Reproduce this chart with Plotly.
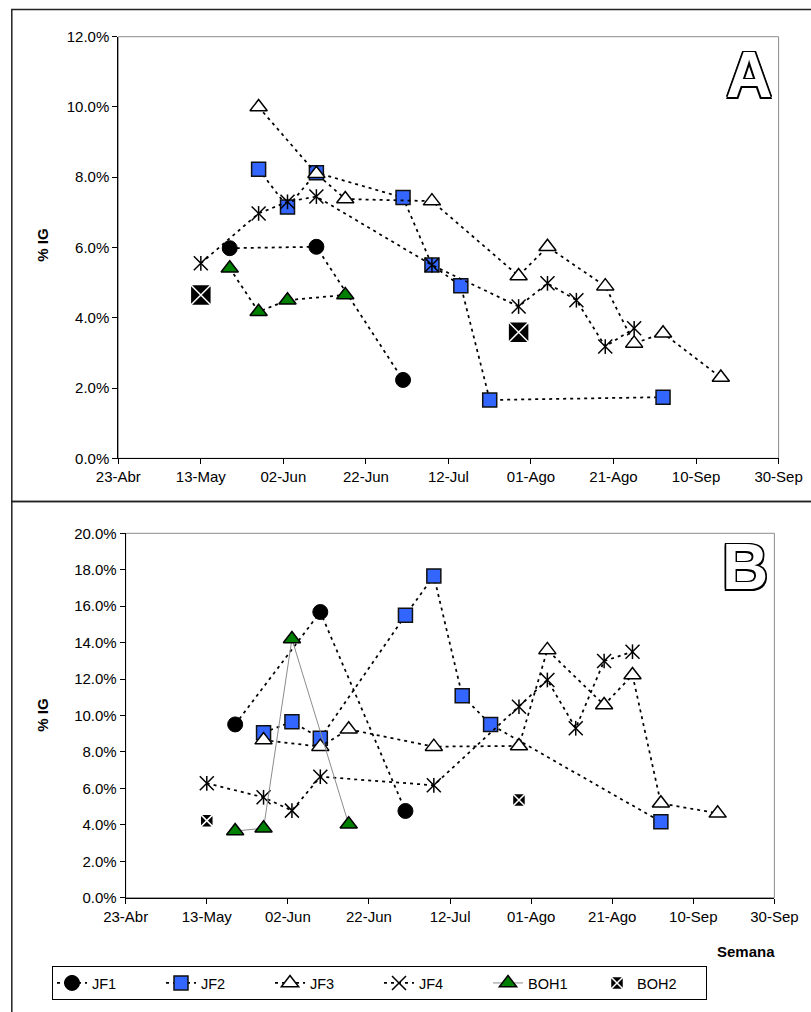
import plotly.graph_objects as go

W, H = 811, 1012

# ---------------- axis ticks ----------------
tick_dates = ["2007-04-23", "2007-05-13", "2007-06-02", "2007-06-22", "2007-07-12",
              "2007-08-01", "2007-08-21", "2007-09-10", "2007-09-30"]
tick_labels = ["23-Abr", "13-May", "02-Jun", "22-Jun", "12-Jul",
               "01-Ago", "21-Ago", "10-Sep", "30-Sep"]
y_ticks_A = [0, 2, 4, 6, 8, 10, 12]
y_labels_A = ["0.0%", "2.0%", "4.0%", "6.0%", "8.0%", "10.0%", "12.0%"]
y_ticks_B = [0, 2, 4, 6, 8, 10, 12, 14, 16, 18, 20]
y_labels_B = ["0.0%", "2.0%", "4.0%", "6.0%", "8.0%", "10.0%", "12.0%", "14.0%",
              "16.0%", "18.0%", "20.0%"]

# ---------------- panel A data (% IG) ----------------
jf1_A_x = ["2007-05-20", "2007-06-10", "2007-07-01"]
jf1_A_y = [5.98, 6.02, 2.23]
jf2_A_x = ["2007-05-27", "2007-06-03", "2007-06-10", "2007-07-01", "2007-07-08",
           "2007-07-15", "2007-07-22", "2007-09-02"]
jf2_A_y = [8.23, 7.15, 8.13, 7.42, 5.50, 4.91, 1.66, 1.74]
jf3_A_x = ["2007-05-27", "2007-06-10", "2007-06-17", "2007-07-08", "2007-07-29",
           "2007-08-05", "2007-08-19", "2007-08-26", "2007-09-02", "2007-09-16"]
jf3_A_y = [10.0, 8.10, 7.38, 7.32, 5.19, 6.02, 4.90, 3.27, 3.56, 2.30]
jf4_A_x = ["2007-05-13", "2007-05-27", "2007-06-03", "2007-06-10", "2007-07-08",
           "2007-07-29", "2007-08-05", "2007-08-12", "2007-08-19", "2007-08-26"]
jf4_A_y = [5.55, 6.97, 7.30, 7.45, 5.50, 4.32, 4.98, 4.50, 3.18, 3.70]
boh1_A_x = ["2007-05-20", "2007-05-27", "2007-06-03", "2007-06-17"]
boh1_A_y = [5.41, 4.17, 4.50, 4.65]
boh2_A_x = ["2007-05-13", "2007-07-29"]
boh2_A_y = [4.65, 3.59]

# ---------------- panel B data (% IG) ----------------
jf1_B_x = ["2007-05-20", "2007-06-10", "2007-07-01"]
jf1_B_y = [9.51, 15.68, 4.76]
jf2_B_x = ["2007-05-27", "2007-06-03", "2007-06-10", "2007-07-01", "2007-07-08",
           "2007-07-15", "2007-07-22", "2007-09-02"]
jf2_B_y = [9.06, 9.66, 8.75, 15.50, 17.66, 11.09, 9.51, 4.17]
jf3_B_x = ["2007-05-27", "2007-06-10", "2007-06-17", "2007-07-08", "2007-07-29",
           "2007-08-05", "2007-08-19", "2007-08-26", "2007-09-02", "2007-09-16"]
jf3_B_y = [8.65, 8.29, 9.24, 8.29, 8.33, 13.60, 10.58, 12.22, 5.18, 4.63]
jf4_B_x = ["2007-05-13", "2007-05-27", "2007-06-03", "2007-06-10", "2007-07-08",
           "2007-07-29", "2007-08-05", "2007-08-12", "2007-08-19", "2007-08-26"]
jf4_B_y = [6.28, 5.51, 4.78, 6.64, 6.17, 10.48, 11.95, 9.30, 12.99, 13.50]
boh1_B_x = ["2007-05-20", "2007-05-27", "2007-06-03", "2007-06-17"]
boh1_B_y = [3.66, 3.81, 14.20, 4.03]
boh2_B_x = ["2007-05-13", "2007-07-29"]
boh2_B_y = [4.23, 5.36]

FONT = "Liberation Sans, Arial, sans-serif"
DOT = dict(color="black", width=1.75, dash="3px,4px")

fig = go.Figure()


def add_panel(xa, ya, d, legend):
    jf1x, jf1y, jf2x, jf2y, jf3x, jf3y, jf4x, jf4y, b1x, b1y, b2x, b2y, b1line, b2size = d
    common = dict(xaxis=xa, yaxis=ya, showlegend=legend, cliponaxis=False)
    fig.add_trace(go.Scatter(x=jf1x, y=jf1y, name="JF1", mode="lines+markers", line=DOT,
                             marker=dict(symbol="circle", size=15, color="black",
                                         line=dict(color="black", width=1)), **common))
    fig.add_trace(go.Scatter(x=jf2x, y=jf2y, name="JF2", mode="lines+markers", line=DOT,
                             marker=dict(symbol="square", size=14, color="#3366FF",
                                         line=dict(color="#111111", width=1.5)), **common))
    fig.add_trace(go.Scatter(x=jf3x, y=jf3y, name="JF3", mode="lines+markers", line=DOT,
                             marker=dict(symbol="triangle-up", size=15, color="white",
                                         line=dict(color="black", width=1.5)), **common))
    fig.add_trace(go.Scatter(x=jf4x, y=jf4y, name="JF4", mode="lines+markers", line=DOT,
                             legendgroup="JF4" + xa,
                             marker=dict(symbol="x-thin-open", size=14, color="black",
                                         line=dict(color="black", width=1.5)), **common))
    fig.add_trace(go.Scatter(x=jf4x, y=jf4y, name="JF4", mode="markers",
                             legendgroup="JF4" + xa, showlegend=False, cliponaxis=False,
                             xaxis=xa, yaxis=ya,
                             marker=dict(symbol="line-ns-open", size=10.5, color="black",
                                         line=dict(color="black", width=1.5))))
    fig.add_trace(go.Scatter(x=b1x, y=b1y, name="BOH1", mode="lines+markers", line=b1line,
                             marker=dict(symbol="triangle-up", size=15, color="#008000",
                                         line=dict(color="black", width=1.5)), **common))
    fig.add_trace(go.Scatter(x=b2x, y=b2y, name="BOH2", mode="markers",
                             marker=dict(symbol="square-x", size=b2size, color="black",
                                         line=dict(color="white", width=1.5)), **common))


add_panel("x", "y", (jf1_A_x, jf1_A_y, jf2_A_x, jf2_A_y, jf3_A_x, jf3_A_y, jf4_A_x, jf4_A_y,
                     boh1_A_x, boh1_A_y, boh2_A_x, boh2_A_y, DOT, 21), False)
add_panel("x2", "y2", (jf1_B_x, jf1_B_y, jf2_B_x, jf2_B_y, jf3_B_x, jf3_B_y, jf4_B_x, jf4_B_y,
                       boh1_B_x, boh1_B_y, boh2_B_x, boh2_B_y,
                       dict(color="#8c8c8c", width=1), 13), True)

tickfont = dict(family=FONT, size=15, color="black")
xcommon = dict(type="date", range=[tick_dates[0], tick_dates[-1]], tickmode="array",
               tickvals=tick_dates, ticktext=tick_labels, showgrid=False, zeroline=False,
               showline=True, linecolor="black", linewidth=1, ticks="outside", ticklen=5,
               tickcolor="black", tickfont=tickfont, automargin=False)
ycommon = dict(showgrid=False, zeroline=False, showline=True, linecolor="black", linewidth=1,
               ticks="outside", ticklen=5, tickcolor="black", tickfont=tickfont,
               tickmode="array", automargin=False)


def px(v):
    return v / W


def py(v):
    return 1 - v / H


fig.update_layout(
    width=W, height=H,
    margin=dict(l=0, r=0, t=0, b=0, pad=0, autoexpand=False),
    paper_bgcolor="white", plot_bgcolor="white",
    font=dict(family=FONT, size=15, color="black"),
    xaxis=dict(domain=[px(118.3), px(778.6)], anchor="y", **xcommon),
    yaxis=dict(domain=[py(458.3), py(36.7)], anchor="x", range=[0, 12],
               tickvals=y_ticks_A, ticktext=y_labels_A, **ycommon),
    xaxis2=dict(domain=[px(125.7), px(774.4)], anchor="y2", **xcommon),
    yaxis2=dict(domain=[py(897.7), py(533.3)], anchor="x2", range=[0, 20],
                tickvals=y_ticks_B, ticktext=y_labels_B, **ycommon),
    showlegend=True,
    legend=dict(orientation="h", x=px(52), y=py(966), xanchor="left", yanchor="top",
                xref="paper", yref="paper",
                bordercolor="black", borderwidth=1, bgcolor="white",
                font=dict(family=FONT, size=14.5, color="black"),
                entrywidth=64, entrywidthmode="pixels", tracegroupgap=0,
                itemsizing="trace"),
)

shapes = [
    # outer frames (extend past the right/bottom edge like the original)
    dict(type="rect", xref="paper", yref="paper", x0=px(11.8), x1=1.02, y0=py(501.5), y1=py(9.5),
         line=dict(color="#222222", width=1.5), layer="below"),
    dict(type="rect", xref="paper", yref="paper", x0=px(11.8), x1=1.02, y0=-0.02, y1=py(501.5),
         line=dict(color="#222222", width=1.5), layer="below"),
    # plot-area borders (grey)
    dict(type="rect", xref="x domain", yref="y domain", x0=0, x1=1, y0=0, y1=1,
         line=dict(color="#8c8c8c", width=1), layer="below"),
    dict(type="rect", xref="x2 domain", yref="y2 domain", x0=0, x1=1, y0=0, y1=1,
         line=dict(color="#8c8c8c", width=1), layer="below"),
]
fig.update_layout(shapes=shapes)

outline = ("-1.5px -1.5px 0 #000, 1.5px -1.5px 0 #000, -1.5px 1.5px 0 #000, "
           "1.5px 1.5px 0 #000, 0 1.5px 0 #000, 0 -1.5px 0 #000, 1.5px 0 0 #000, -1.5px 0 0 #000")
letter_font = dict(family="Liberation Sans Narrow, Liberation Sans, Arial", size=64,
                   color="white", weight="bold", shadow=outline)

annotations = [
    dict(text="A", x=px(749), y=py(75), xref="paper", yref="paper", showarrow=False,
         xanchor="center", yanchor="middle", font=letter_font),
    dict(text="B", x=px(745), y=py(567), xref="paper", yref="paper", showarrow=False,
         xanchor="center", yanchor="middle", font=letter_font),
    dict(text="<b>% IG</b>", x=px(41.7), y=py(245), xref="paper", yref="paper",
         showarrow=False, textangle=-90, xanchor="center", yanchor="middle",
         font=dict(family=FONT, size=15, color="black")),
    dict(text="<b>% IG</b>", x=px(41.7), y=py(715), xref="paper", yref="paper",
         showarrow=False, textangle=-90, xanchor="center", yanchor="middle",
         font=dict(family=FONT, size=15, color="black")),
    dict(text="<b>Semana</b>", x=px(777), y=py(951), xref="paper", yref="paper",
         showarrow=False, xanchor="right", yanchor="middle",
         font=dict(family=FONT, size=15, color="black")),
]
fig.update_layout(annotations=annotations)

fig.write_html("out.html", config={"displayModeBar": False},
               post_script="document.body.style.margin='0';")
